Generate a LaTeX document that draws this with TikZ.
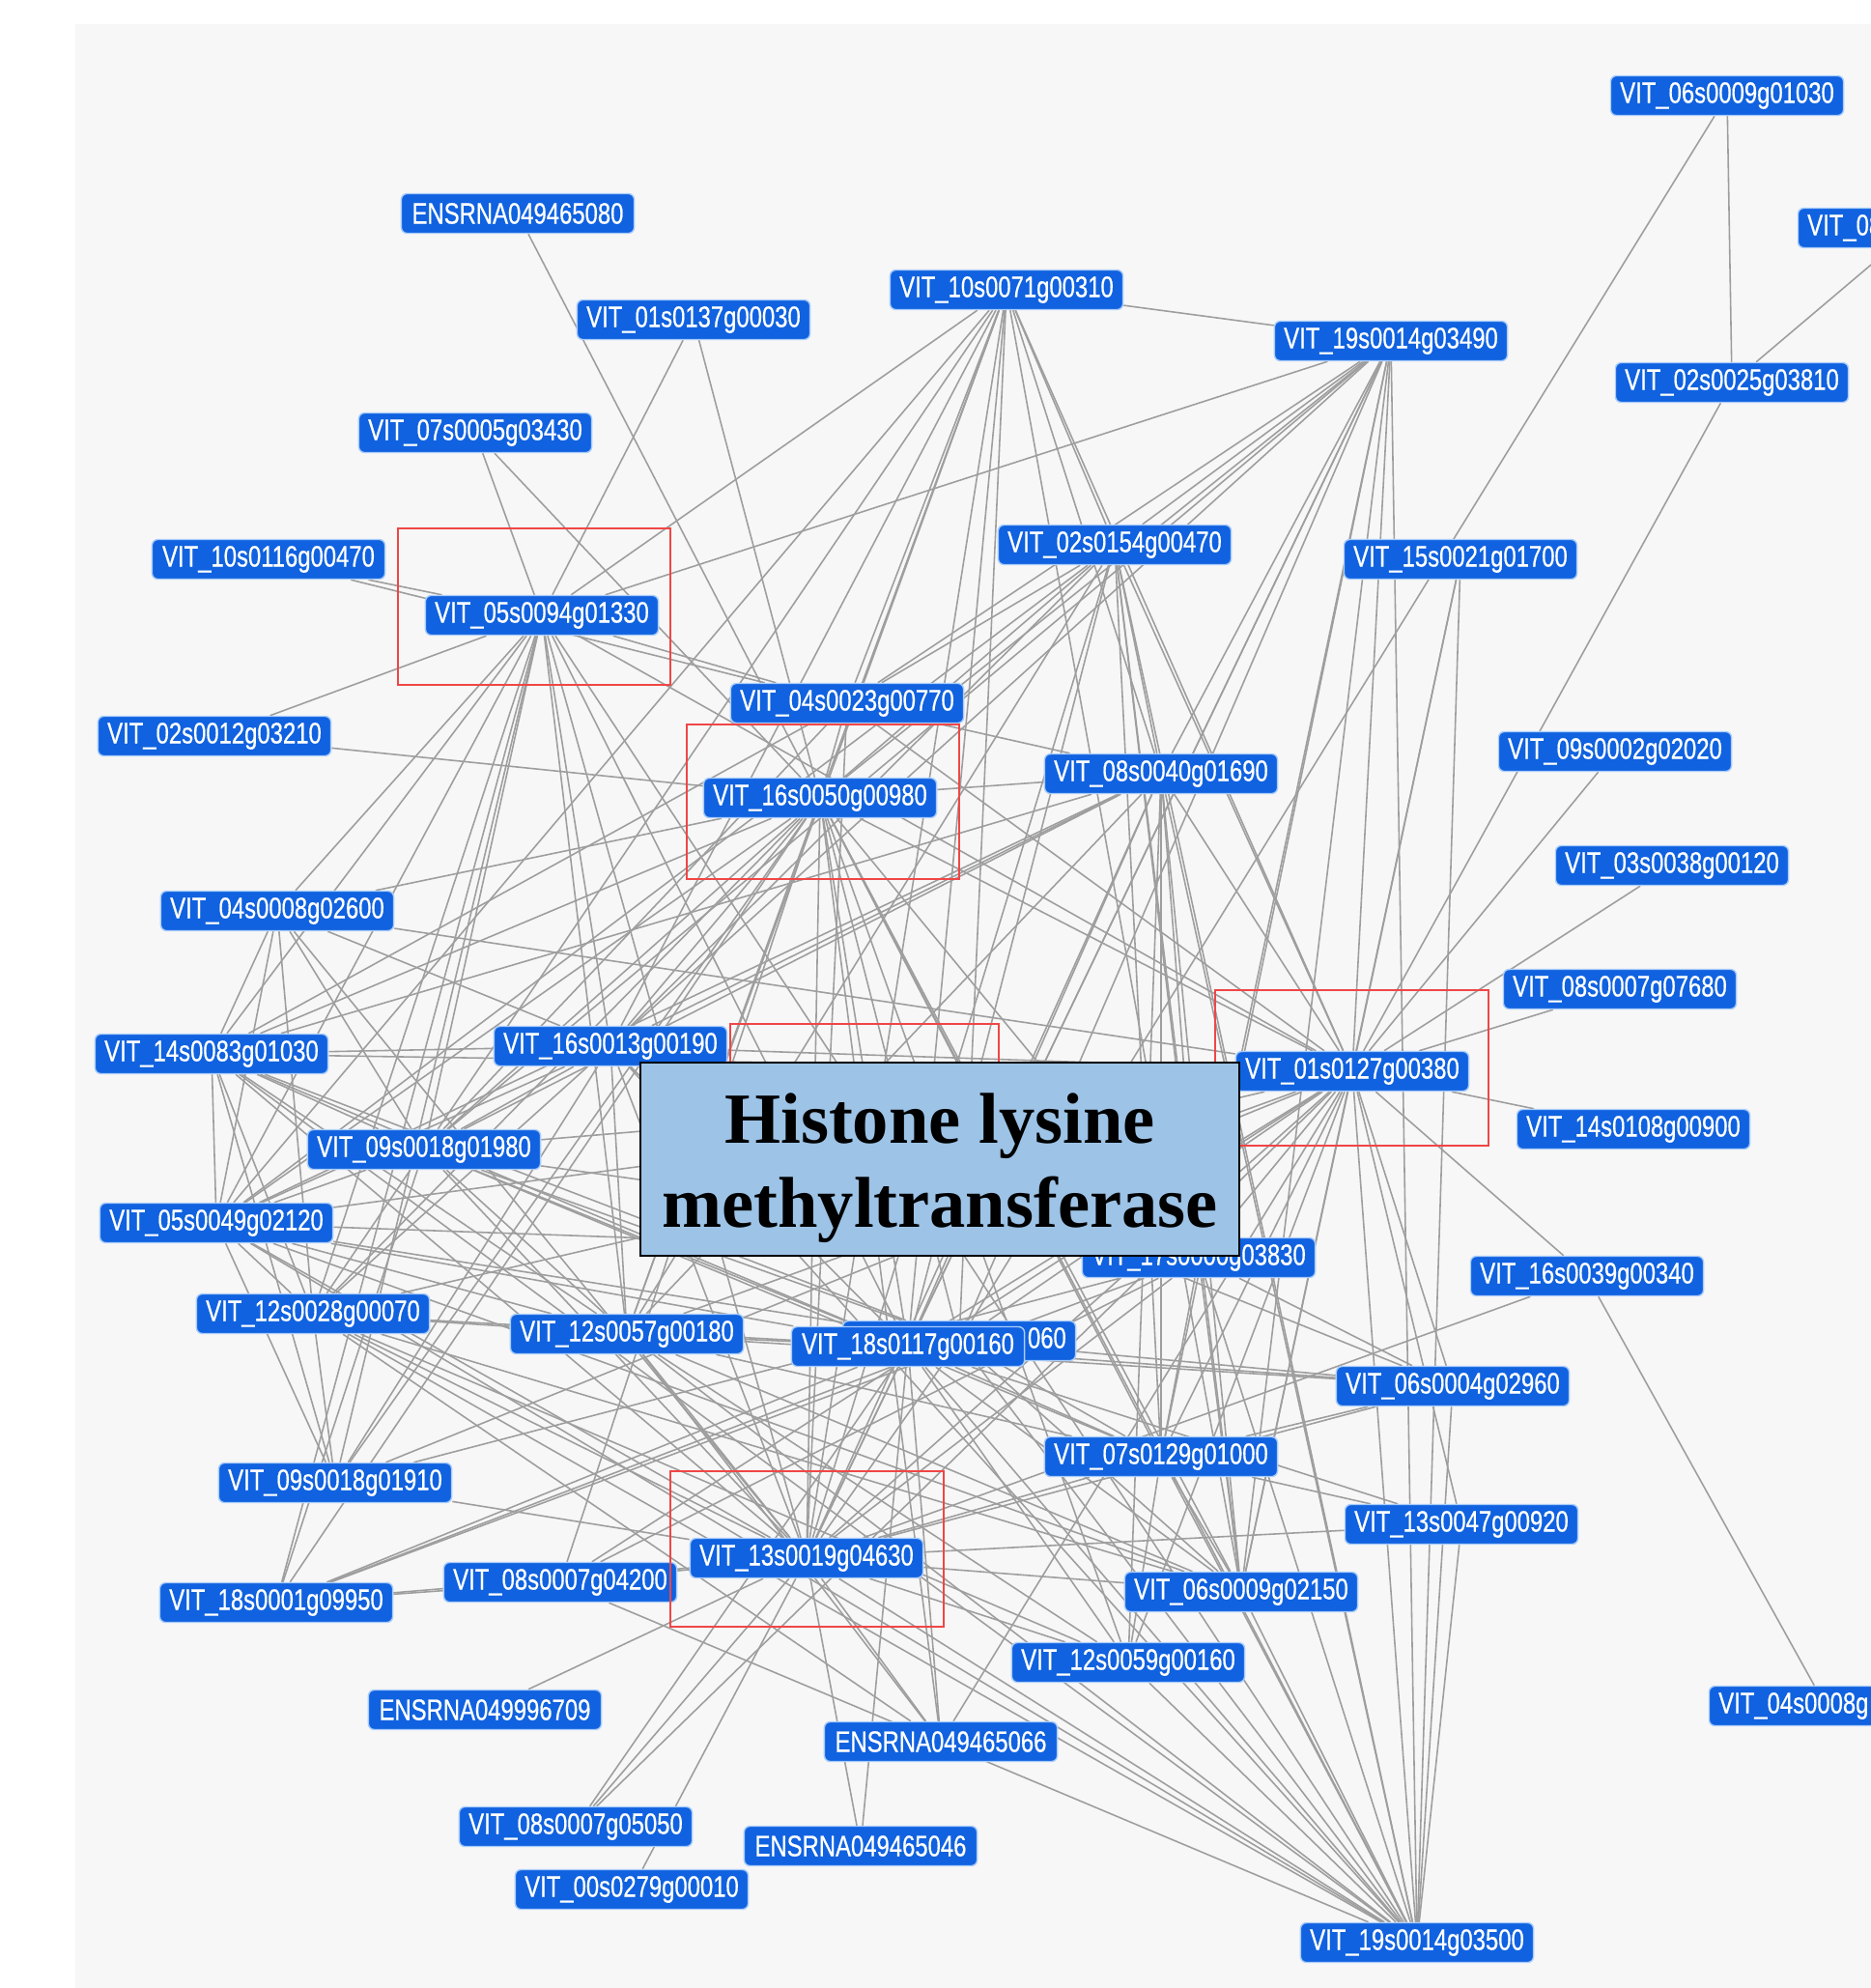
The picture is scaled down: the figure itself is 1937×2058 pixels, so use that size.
\documentclass[tikz,border=0pt]{standalone}
\usepackage{fontspec}
\usepackage{xcolor}
\usepackage{tikz}
\usetikzlibrary{backgrounds}
\newfontfamily\genefont[FakeStretch=0.78,FakeBold=0.6]{Liberation Sans}
\newfontfamily\headfont{Liberation Serif}
\definecolor{geneblue}{RGB}{16,98,224}
\definecolor{genehalo}{RGB}{170,205,250}
\definecolor{linkgray}{RGB}{158,158,158}
\definecolor{hired}{RGB}{240,70,70}
\definecolor{titleblue}{RGB}{157,195,230}
\definecolor{canvas}{RGB}{247,247,247}

\begin{document}
\begin{tikzpicture}[x=0.01cm, y=-0.01cm,
  gene/.style={rectangle, rounded corners=0.06cm, fill=geneblue, draw=genehalo, line width=0.4pt, text=white, font=\genefont\fontsize{8.7}{9}\selectfont, minimum width=2.41cm, minimum height=0.41cm, inner sep=0pt},
  link/.style={draw=linkgray, line width=0.45pt},
  hilite/.style={draw=hired, line width=0.55pt},
  title/.style={draw=black, line width=0.7pt, fill=titleblue, font=\headfont\bfseries\fontsize{21.2}{24.7}\selectfont, align=center, minimum width=6.2cm, minimum height=2cm, inner sep=0pt}]
			\useasboundingbox (0,0) rectangle (1937,2058);
			\clip (0,0) rectangle (1937,2058);
			\node[gene] (g06s0009g01030) at (1788,99) {VIT\_06s0009g01030};
			\node[gene] (g08top) at (1982,236) {VIT\_08\phantom{s0000g00000}};
			\node[gene] (r049465080) at (536,221) {ENSRNA049465080};
			\node[gene] (g10s0071g00310) at (1042,300) {VIT\_10s0071g00310};
			\node[gene] (g01s0137g00030) at (718,331) {VIT\_01s0137g00030};
			\node[gene] (g19s0014g03490) at (1440,353) {VIT\_19s0014g03490};
			\node[gene] (g02s0025g03810) at (1793,396) {VIT\_02s0025g03810};
			\node[gene] (g07s0005g03430) at (492,448) {VIT\_07s0005g03430};
			\node[gene] (g10s0116g00470) at (278,579) {VIT\_10s0116g00470};
			\node[gene] (g02s0154g00470) at (1154,564) {VIT\_02s0154g00470};
			\node[gene] (g15s0021g01700) at (1512,579) {VIT\_15s0021g01700};
			\node[gene] (g05s0094g01330) at (561,637) {VIT\_05s0094g01330};
			\node[gene] (g04s0023g00770) at (877,728) {VIT\_04s0023g00770};
			\node[gene] (g02s0012g03210) at (222,762) {VIT\_02s0012g03210};
			\node[gene] (g16s0050g00980) at (849,826) {VIT\_16s0050g00980};
			\node[gene] (g08s0040g01690) at (1202,801) {VIT\_08s0040g01690};
			\node[gene] (g09s0002g02020) at (1672,778) {VIT\_09s0002g02020};
			\node[gene] (g03s0038g00120) at (1731,896) {VIT\_03s0038g00120};
			\node[gene] (g04s0008g02600) at (287,943) {VIT\_04s0008g02600};
			\node[gene] (g08s0007g07680) at (1677,1024) {VIT\_08s0007g07680};
			\node[gene] (g14s0083g01030) at (219,1091) {VIT\_14s0083g01030};
			\node[gene] (g16s0013g00190) at (632,1083) {VIT\_16s0013g00190};
			\node[gene] (g01s0127g00380) at (1400,1109) {VIT\_01s0127g00380};
			\node[gene] (g14s0108g00900) at (1691,1169) {VIT\_14s0108g00900};
			\node[gene] (g09s0018g01980) at (439,1190) {VIT\_09s0018g01980};
			\node[gene] (g05s0049g02120) at (224,1266) {VIT\_05s0049g02120};
			\node[gene] (g17s0000g03830) at (1241,1302) {VIT\_17s0000g03830};
			\node[gene] (g16s0039g00340) at (1643,1321) {VIT\_16s0039g00340};
			\node[gene] (g12s0028g00070) at (324,1360) {VIT\_12s0028g00070};
			\node[gene] (g12s0057g00180) at (649,1381) {VIT\_12s0057g00180};
			\node[gene] (g2060) at (993,1388) {\phantom{VIT\_00s0000g02}060};
			\node[gene] (g18s0117g00160) at (940,1394) {VIT\_18s0117g00160};
			\node[gene] (g06s0004g02960) at (1504,1435) {VIT\_06s0004g02960};
			\node[gene] (g07s0129g01000) at (1202,1508) {VIT\_07s0129g01000};
			\node[gene] (g09s0018g01910) at (347,1535) {VIT\_09s0018g01910};
			\node[gene] (g13s0047g00920) at (1513,1578) {VIT\_13s0047g00920};
			\node[gene] (g13s0019g04630) at (835,1613) {VIT\_13s0019g04630};
			\node[gene] (g18s0001g09950) at (286,1659) {VIT\_18s0001g09950};
			\node[gene] (g08s0007g04200) at (580,1638) {VIT\_08s0007g04200};
			\node[gene] (g06s0009g02150) at (1285,1648) {VIT\_06s0009g02150};
			\node[gene] (g12s0059g00160) at (1168,1721) {VIT\_12s0059g00160};
			\node[gene] (r049996709) at (502,1770) {ENSRNA049996709};
			\node[gene] (r049465066) at (974,1803) {ENSRNA049465066};
			\node[gene] (g04s0008gX) at (1890,1766) {VIT\_04s0008g\phantom{00000}};
			\node[gene] (g08s0007g05050) at (596,1891) {VIT\_08s0007g05050};
			\node[gene] (r049465046) at (891,1911) {ENSRNA049465046};
			\node[gene] (g00s0279g00010) at (654,1956) {VIT\_00s0279g00010};
			\node[gene] (g19s0014g03500) at (1467,2011) {VIT\_19s0014g03500};
			\begin{pgfonlayer}{background}
			\fill[canvas] (78,25) rectangle (1937,2058);
			\draw[link] (g06s0009g01030) edge (g02s0025g03810) edge (g2060);
			\draw[link] (g02s0025g03810) edge (g08top) edge (g01s0127g00380);
			\draw[link] (g09s0002g02020) edge (g01s0127g00380);
			\draw[link] (g03s0038g00120) edge (g01s0127g00380);
			\draw[link] (g08s0007g07680) edge (g01s0127g00380);
			\draw[link] (g14s0108g00900) edge (g01s0127g00380);
			\draw[link] (g16s0039g00340) edge (g01s0127g00380) edge (g04s0008gX) edge (g13s0019g04630);
			\draw[link] (g15s0021g01700) edge (g01s0127g00380) edge (g19s0014g03500) edge (g06s0009g02150);
			\draw[link] (r049465080) edge (g16s0050g00980);
			\draw[link] (g01s0137g00030) edge (g05s0094g01330) edge (g16s0050g00980);
			\draw[link] (g07s0005g03430) edge (g05s0094g01330) edge (g16s0050g00980);
			\draw[link] (g10s0116g00470) edge (g05s0094g01330) edge (g04s0023g00770);
			\draw[link] (g02s0012g03210) edge (g16s0050g00980) edge (g05s0094g01330);
			\draw[link] (g10s0071g00310) edge (g19s0014g03490) edge (g05s0094g01330) edge (g16s0050g00980) edge (g04s0023g00770) edge (g16s0013g00190) edge (g09s0018g01980) edge (g12s0057g00180) edge (g18s0117g00160) edge (g13s0019g04630) edge (g02s0154g00470) edge (g08s0040g01690) edge (g01s0127g00380) edge (g06s0009g02150) edge (g2060) edge (g05s0049g02120);
			\draw[link] (g19s0014g03490) edge (g05s0094g01330) edge (g04s0023g00770) edge (g16s0050g00980) edge (g16s0013g00190) edge (g18s0117g00160) edge (g13s0019g04630) edge (g08s0040g01690) edge (g02s0154g00470) edge (g01s0127g00380) edge (g17s0000g03830) edge (g19s0014g03500) edge (g07s0129g01000) edge (g06s0009g02150) edge (g2060) edge (g09s0018g01980);
			\draw[link] (g02s0154g00470) edge (g16s0050g00980) edge (g04s0023g00770) edge (g08s0040g01690) edge (g16s0013g00190) edge (g12s0057g00180) edge (g18s0117g00160) edge (g13s0019g04630) edge (g01s0127g00380) edge (g07s0129g01000) edge (g06s0009g02150) edge (g17s0000g03830) edge (g19s0014g03500) edge (g05s0049g02120);
			\draw[link] (g04s0023g00770) edge (g05s0094g01330) edge (g16s0050g00980) edge (g08s0040g01690) edge (g01s0127g00380) edge (g09s0018g01980) edge (g14s0083g01030) edge (g13s0019g04630);
			\draw[link] (g08s0040g01690) edge (g16s0050g00980) edge (g01s0127g00380) edge (g16s0013g00190) edge (g09s0018g01980) edge (g05s0049g02120) edge (g12s0057g00180) edge (g18s0117g00160) edge (g13s0019g04630) edge (g07s0129g01000) edge (g06s0009g02150) edge (g19s0014g03500) edge (g17s0000g03830) edge (g12s0059g00160) edge (g14s0083g01030);
			\draw[link] (g05s0094g01330) edge (g14s0083g01030) edge (g05s0049g02120) edge (g12s0028g00070) edge (g09s0018g01980) edge (g16s0013g00190) edge (g12s0057g00180) edge (g13s0019g04630) edge (g18s0117g00160) edge (g01s0127g00380) edge (g19s0014g03500) edge (g18s0001g09950) edge (g04s0008g02600) edge (g09s0018g01910);
			\draw[link] (g16s0050g00980) edge (g04s0008g02600) edge (g14s0083g01030) edge (g05s0049g02120) edge (g09s0018g01980) edge (g12s0028g00070) edge (g09s0018g01910) edge (g18s0001g09950) edge (g16s0013g00190) edge (g12s0057g00180) edge (g18s0117g00160) edge (g13s0019g04630) edge (g01s0127g00380) edge (g17s0000g03830) edge (g07s0129g01000) edge (g06s0009g02150) edge (g19s0014g03500) edge (g08s0007g04200) edge (g12s0059g00160) edge (r049465066) edge (g2060);
			\draw[link] (g01s0127g00380) edge (g16s0013g00190) edge (g14s0083g01030) edge (g09s0018g01980) edge (g05s0049g02120) edge (g12s0057g00180) edge (g18s0117g00160) edge (g12s0028g00070) edge (g17s0000g03830) edge (g07s0129g01000) edge (g06s0004g02960) edge (g13s0047g00920) edge (g06s0009g02150) edge (g12s0059g00160) edge (g19s0014g03500) edge (g13s0019g04630) edge (r049465066) edge (g04s0008g02600) edge (g09s0018g01910) edge (g2060) edge (g08s0007g04200) edge (g08s0007g05050);
			\draw[link] (g04s0008g02600) edge (g05s0049g02120) edge (g09s0018g01980) edge (g12s0028g00070) edge (g16s0013g00190) edge (g13s0019g04630) edge (g14s0083g01030);
			\draw[link] (g14s0083g01030) edge (g16s0013g00190) edge (g05s0049g02120) edge (g09s0018g01980) edge (g12s0028g00070) edge (g12s0057g00180) edge (g18s0117g00160) edge (g13s0019g04630) edge (g19s0014g03500) edge (g2060) edge (g09s0018g01910);
			\draw[link] (g16s0013g00190) edge (g05s0049g02120) edge (g09s0018g01980) edge (g12s0028g00070) edge (g12s0057g00180) edge (g18s0117g00160) edge (g13s0019g04630) edge (g09s0018g01910) edge (g19s0014g03500) edge (g06s0004g02960);
			\draw[link] (g09s0018g01980) edge (g05s0049g02120) edge (g12s0028g00070) edge (g12s0057g00180) edge (g18s0117g00160) edge (g13s0019g04630) edge (g2060) edge (g17s0000g03830) edge (g18s0001g09950) edge (g07s0129g01000);
			\draw[link] (g05s0049g02120) edge (g12s0028g00070) edge (g12s0057g00180) edge (g18s0117g00160) edge (g13s0019g04630) edge (g19s0014g03500) edge (g2060) edge (g17s0000g03830) edge (g09s0018g01910) edge (g06s0009g02150);
			\draw[link] (g12s0028g00070) edge (g13s0019g04630) edge (g19s0014g03500) edge (g18s0117g00160) edge (g12s0057g00180) edge (g09s0018g01910) edge (r049465066) edge (g06s0009g02150) edge (g12s0059g00160);
			\draw[link] (g12s0057g00180) edge (g18s0117g00160) edge (g13s0019g04630) edge (g19s0014g03500) edge (g07s0129g01000) edge (g06s0009g02150) edge (g12s0059g00160) edge (g06s0004g02960) edge (r049465066);
			\draw[link] (g18s0117g00160) edge (g13s0019g04630) edge (g19s0014g03500) edge (g06s0004g02960) edge (g07s0129g01000) edge (g06s0009g02150) edge (g12s0059g00160) edge (g13s0047g00920) edge (g18s0001g09950) edge (g08s0007g05050) edge (r049465046) edge (r049465066);
			\draw[link] (g2060) edge (g13s0019g04630) edge (g07s0129g01000) edge (g06s0009g02150) edge (g06s0004g02960) edge (g19s0014g03500) edge (g18s0001g09950);
			\draw[link] (g17s0000g03830) edge (g13s0019g04630) edge (g19s0014g03500) edge (g07s0129g01000) edge (g06s0009g02150) edge (g06s0004g02960) edge (g08s0007g04200) edge (g09s0018g01910);
			\draw[link] (g06s0004g02960) edge (g13s0019g04630) edge (g19s0014g03500) edge (g07s0129g01000);
			\draw[link] (g07s0129g01000) edge (g13s0019g04630) edge (g19s0014g03500) edge (g13s0047g00920) edge (g06s0009g02150) edge (g12s0059g00160);
			\draw[link] (g13s0047g00920) edge (g13s0019g04630) edge (g19s0014g03500);
			\draw[link] (g06s0009g02150) edge (g13s0019g04630) edge (g19s0014g03500);
			\draw[link] (g12s0059g00160) edge (g13s0019g04630) edge (g19s0014g03500);
			\draw[link] (g13s0019g04630) edge (g19s0014g03500) edge (r049465066) edge (r049465046) edge (g08s0007g05050) edge (g00s0279g00010) edge (r049996709) edge (g08s0007g04200) edge (g09s0018g01910) edge (g18s0001g09950);
			\draw[link] (g18s0001g09950) edge (g08s0007g04200) edge (g17s0000g03830);
			\draw[link] (g08s0007g04200) edge (g19s0014g03500);
			\end{pgfonlayer}
			\draw[hilite] (412,547) rectangle (694,709);
			\draw[hilite] (711,750) rectangle (993,910);
			\draw[hilite] (756,1060) rectangle (1034,1222);
			\draw[hilite] (1258,1025) rectangle (1541,1186);
			\draw[hilite] (694,1523) rectangle (977,1684);
			\node[title] (histone) at (973,1200) {\rule{0pt}{19.7pt}Histone lysine\\methyltransferase};
		\end{tikzpicture}
\end{document}
